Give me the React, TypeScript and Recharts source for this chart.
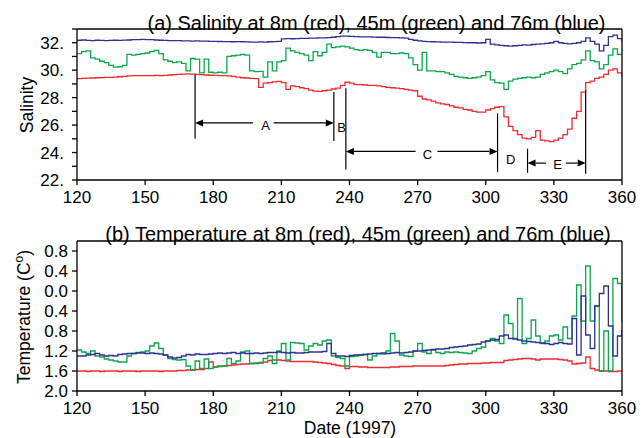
import { LineChart, Line, XAxis, YAxis, ReferenceLine, ReferenceDot } from 'recharts';

// sampling grid, every 2 days
const DAYS = Array.from({ length: 121 }, (_, i) => 120 + 2 * i);
const DATE_TICKS = [120, 150, 180, 210, 240, 270, 300, 330, 360];
const SALT_TICKS = [22, 23, 24, 25, 26, 27, 28, 29, 30, 31, 32, 33];
const TEMP_TICKS = [-2.0, -1.6, -1.2, -0.8, -0.4, 0, 0.4, 0.8];

// salinity
const salt8m = [
  29.38, 29.40, 29.42, 29.43, 29.45, 29.46, 29.47, 29.48, 29.50, 29.52,
  29.55, 29.58, 29.60, 29.60, 29.60, 29.60, 29.60, 29.62, 29.60, 29.62,
  29.65, 29.68, 29.70, 29.72, 29.73, 29.72, 29.70, 29.68, 29.65, 29.63,
  29.62, 29.60, 29.60, 29.58, 29.55, 29.50, 29.45, 29.43, 29.40, 29.38,
  28.75, 29.05, 29.10, 29.15, 29.19, 29.10, 28.60, 28.85, 28.80, 28.72,
  28.65, 28.55, 28.48, 28.46, 28.50, 28.55, 28.63, 28.70, 28.90, 29.12,
  29.05, 28.95, 28.95, 28.92, 28.90, 28.90, 28.85, 28.80, 28.75, 28.72,
  28.70, 28.65, 28.60, 28.55, 28.50, 28.10, 27.90, 27.84, 27.75, 27.62,
  27.55, 27.50, 27.40, 27.30, 27.25, 27.15, 27.10, 27.00, 26.95, 26.94,
  27.10, 27.20, 27.30, 27.35, 26.60, 25.90, 25.60, 25.30, 25.05, 24.99,
  25.10, 25.60, 24.90, 24.85, 24.80, 24.90, 25.05, 25.30, 25.70, 26.50,
  27.00, 28.40, 29.10, 29.20, 29.40, 29.50, 29.70, 30.00, 30.10, 29.80,
  29.50,
];
const salt45m = [
  31.20, 31.35, 31.40, 30.90, 30.80, 30.65, 30.55, 30.35, 30.22, 30.25,
  30.35, 31.15, 31.10, 31.15, 31.20, 31.25, 31.35, 31.45, 31.20, 30.75,
  30.65, 30.55, 30.60, 30.50, 29.95, 30.85, 30.80, 29.80, 30.80, 29.85,
  29.80, 29.85, 29.80, 31.00, 31.05, 31.10, 31.15, 31.10, 29.95, 29.90,
  29.92, 29.50, 30.60, 29.95, 30.60, 30.70, 31.60, 31.40, 31.30, 31.20,
  31.10, 30.70, 31.35, 31.05, 31.30, 31.90, 31.65, 31.70, 31.75, 31.70,
  31.60, 31.50, 31.45, 31.50, 31.45, 31.30, 30.95, 31.30, 31.30, 31.20,
  31.20, 31.25, 31.20, 30.90, 30.40, 30.00, 31.30, 29.95, 29.95, 29.90,
  29.90, 29.80, 29.70, 29.55, 29.50, 29.45, 29.40, 29.45, 29.50, 29.60,
  29.90, 29.30, 29.10, 29.05, 28.60, 29.20, 29.35, 29.40, 29.45, 29.50,
  29.45, 29.50, 29.70, 29.80, 29.90, 30.00, 29.90, 29.75, 30.10, 30.40,
  30.50, 30.75, 31.40, 30.70, 30.60, 30.10, 30.40, 31.10, 31.55, 31.15,
  31.10,
];
const salt76m = [
  32.18, 32.20, 32.17, 32.16, 32.18, 32.17, 32.15, 32.17, 32.18, 32.17,
  32.19, 32.20, 32.22, 32.23, 32.24, 32.23, 32.22, 32.20, 32.18, 32.17,
  32.15, 32.16, 32.15, 32.14, 32.13, 32.12, 32.13, 32.12, 32.11, 32.10,
  32.10, 32.09, 32.08, 32.08, 32.07, 32.08, 32.07, 32.06, 32.05, 32.05,
  32.06, 32.05, 32.07, 32.08, 32.10, 32.28, 32.30, 32.29, 32.30, 32.31,
  32.32, 32.33, 32.34, 32.35, 32.36, 32.37, 32.40, 32.45, 32.48, 32.48,
  32.46, 32.45, 32.43, 32.42, 32.42, 32.41, 32.40, 32.40, 32.38, 32.37,
  32.37, 32.35, 32.33, 32.25, 32.18, 32.13, 32.10, 32.08, 32.07, 32.06,
  32.05, 32.04, 32.04, 32.03, 32.02, 32.01, 32.00, 32.00, 31.98, 32.00,
  32.24, 31.90, 31.85, 31.80, 31.78, 31.75, 31.78, 31.80, 31.85, 31.82,
  31.87, 31.90, 31.92, 31.95, 32.00, 32.10, 32.00, 31.95, 31.92, 31.95,
  32.00, 32.10, 32.35, 32.10, 31.90, 31.40, 31.80, 32.45, 32.56, 32.30,
  32.05,
];

// temperature
const temp8m = [
  -1.60, -1.60, -1.61, -1.60, -1.60, -1.61, -1.60, -1.60, -1.60, -1.61,
  -1.60, -1.60, -1.60, -1.61, -1.60, -1.60, -1.60, -1.60, -1.61, -1.60,
  -1.60, -1.60, -1.59, -1.59, -1.58, -1.58, -1.57, -1.57, -1.55, -1.42,
  -1.52, -1.50, -1.50, -1.49, -1.48, -1.47, -1.46, -1.46, -1.45, -1.45,
  -1.44, -1.42, -1.39, -1.38, -1.38, -1.39, -1.40, -1.41, -1.41, -1.41,
  -1.41, -1.41, -1.42, -1.43, -1.44, -1.45, -1.47, -1.49, -1.50, -1.55,
  -1.51, -1.51, -1.52, -1.52, -1.53, -1.53, -1.53, -1.53, -1.53, -1.52,
  -1.52, -1.51, -1.51, -1.51, -1.50, -1.50, -1.50, -1.50, -1.50, -1.50,
  -1.50, -1.49, -1.48, -1.47, -1.46, -1.46, -1.45, -1.45, -1.45, -1.44,
  -1.44, -1.43, -1.43, -1.43, -1.39, -1.38, -1.37, -1.36, -1.35, -1.35,
  -1.36, -1.38, -1.36, -1.36, -1.36, -1.36, -1.37, -1.38, -1.40, -1.46,
  -1.45, -1.44, -1.32, -1.55, -1.58, -1.60, -1.60, -1.61, -1.61, -1.60,
  -1.61,
];
const temp45m = [
  -1.18, -1.22, -1.25, -1.20, -1.30, -1.32, -1.36, -1.38, -1.40, -1.42,
  -1.42, -1.30, -1.25, -1.23, -1.22, -1.20, -1.10, -1.04, -1.15, -1.28,
  -1.35, -1.37, -1.38, -1.37, -1.50, -1.58, -1.40, -1.55, -1.36, -1.55,
  -1.52, -1.51, -1.50, -1.35, -1.45, -1.40, -1.22, -1.20, -1.45, -1.44,
  -1.43, -1.35, -1.30, -1.45, -1.20, -1.05, -1.38, -1.03, -1.04, -1.05,
  -1.18, -1.10, -1.05, -1.08, -1.00, -0.98, -1.30, -1.33, -1.35, -1.50,
  -1.31, -1.30, -1.28, -1.27, -1.38, -1.30, -1.25, -1.26, -1.20, -0.85,
  -1.00, -1.28, -1.30, -1.31, -1.20, -1.05, -1.22, -1.25, -1.18, -1.23,
  -1.25, -1.22, -1.23, -1.22, -1.23, -1.24, -1.25, -1.20, -1.15, -1.12,
  -1.00, -0.95, -1.00, -1.05, -0.48, -0.65, -0.95, -0.15, -1.05, -0.95,
  -0.58, -0.90, -1.05, -1.00, -0.90, -0.88, -0.98, -0.72, -0.95, -0.50,
  0.12, -0.60, 0.50, -0.60, -0.30, -1.60, -0.80, -1.60, 0.25, 0.15,
  -0.62,
];
const temp76m = [
  -1.30, -1.30, -1.28, -1.27, -1.25, -1.28, -1.30, -1.29, -1.30, -1.27,
  -1.26, -1.25, -1.25, -1.24, -1.24, -1.25, -1.24, -1.25, -1.26, -1.28,
  -1.32, -1.34, -1.33, -1.30, -1.27, -1.28, -1.26, -1.27, -1.27, -1.26,
  -1.25, -1.24, -1.25, -1.24, -1.23, -1.25, -1.24, -1.25, -1.25, -1.24,
  -1.25, -1.24, -1.23, -1.23, -1.22, -1.23, -1.24, -1.23, -1.24, -1.24,
  -1.23, -1.22, -1.22, -1.22, -1.21, -1.05, -1.25, -1.30, -1.30, -1.31,
  -1.29, -1.28, -1.28, -1.27, -1.26, -1.25, -1.25, -1.24, -1.25, -1.24,
  -1.23, -1.24, -1.23, -1.22, -1.20, -1.20, -1.19, -1.18, -1.17, -1.16,
  -1.16, -1.15, -1.13, -1.12, -1.11, -1.10, -1.08, -1.07, -1.06, -1.02,
  -1.00, -0.98, -0.97, -0.90, -0.88, -0.95, -0.96, -0.98, -1.00, -1.01,
  -1.02, -1.03, -1.04, -1.05, -1.07, -1.05, -1.03, -1.05, -1.06, -0.55,
  -1.28, -0.10, -0.88, -1.15, -0.30, -0.05, 0.10, -0.70, -1.30, -0.90,
  -0.78,
];

// water-mass period markers in panel (a): vertical bars, arrows, letters
const markerBars = [
  { day: 172.0, top: 29.67, bottom: 25.01 },
  { day: 233.1, top: 28.41, bottom: 24.84 },
  { day: 238.4, top: 28.68, bottom: 22.77 },
  { day: 305.2, top: 26.85, bottom: 22.57 },
  { day: 318.4, top: 24.28, bottom: 22.52 },
  { day: 344.0, top: 28.55, bottom: 22.45 },
];
const markerArrows = [
  { from: 197.5, to: 172.0, level: 26.16 },
  { from: 206.6, to: 233.1, level: 26.16 },
  { from: 269.1, to: 238.4, level: 24.08 },
  { from: 278.7, to: 305.2, level: 24.08 },
  { from: 326.5, to: 318.4, level: 23.23 },
  { from: 335.3, to: 344.0, level: 23.23 },
];
const markerLetters = [
  { text: 'A', day: 203.0, level: 26.0 },
  { text: 'B', day: 236.5, level: 25.8 },
  { text: 'C', day: 274.3, level: 23.84 },
  { text: 'D', day: 311.0, level: 23.5 },
  { text: 'E', day: 331.6, level: 23.13 },
];

const saltRows = DAYS.map((day, i) => ({ day, s8: salt8m[i], s45: salt45m[i], s76: salt76m[i] }));
const tempRows = DAYS.map((day, i) => ({ day, t8: temp8m[i], t45: temp45m[i], t76: temp76m[i] }));

const RED = '#ee2b2e';
const GREEN = '#0ba64c';
const BLUE = '#2e3192';
const FONT = '"Liberation Sans", Arial, Helvetica, sans-serif';

const tickStyle = { fill: '#000', fontSize: 17, fontFamily: FONT };
const axisLine = { stroke: '#000', strokeWidth: 1.3 };

const ArrowShape = (p: any) => {
  const { x1, y1, x2, y2 } = p;
  const dir = x2 >= x1 ? 1 : -1;
  const len = 8;
  const half = 3.5;
  return (
    <g>
      <line x1={x1} y1={y1} x2={x2 - dir * len} y2={y2} stroke="#000" strokeWidth={1.2} />
      <polygon points={`${x2},${y2} ${x2 - dir * len},${y2 - half} ${x2 - dir * len},${y2 + half}`} fill="#000" />
    </g>
  );
};

const letterShape = (text: string) => (p: any) => (
  <text x={p.cx} y={p.cy} textAnchor="middle" dominantBaseline="central" fontSize={13} fontFamily={FONT} fill="#000">
    {text}
  </text>
);

const App = () => {
  return (
    <div style={{ position: 'absolute', left: 0, top: 0, width: 644, height: 438, background: '#fff', fontFamily: FONT }}>
      <div style={{ position: 'absolute', left: 0, top: 0 }}>
        <LineChart width={644} height={210} data={saltRows} margin={{ top: 29, right: 0, bottom: 0, left: 0 }}>
          <XAxis
            dataKey="day"
            type="number"
            domain={[120, 360]}
            ticks={DATE_TICKS}
            height={30}
            tickSize={5}
            tickMargin={6}
            tick={tickStyle}
            axisLine={axisLine}
            tickLine={axisLine}
            allowDataOverflow
          />
          <YAxis
            type="number"
            domain={[22, 33]}
            ticks={SALT_TICKS}
            width={77}
            tickSize={5}
            tickMargin={8}
            tick={tickStyle}
            tickFormatter={(v: number) => (v % 2 === 0 && v < 33 ? `${v}.` : '')}
            axisLine={axisLine}
            tickLine={axisLine}
            interval={0}
            allowDataOverflow
          />
          <YAxis
            yAxisId="right"
            orientation="right"
            type="number"
            domain={[22, 33]}
            ticks={SALT_TICKS}
            width={22}
            tickSize={5}
            tickFormatter={() => ''}
            axisLine={axisLine}
            tickLine={axisLine}
            interval={0}
          />
          <ReferenceLine y={33} stroke="#000" strokeWidth={1.3} />
          <Line dataKey="s76" type="stepAfter" stroke={BLUE} strokeWidth={1.3} dot={false} isAnimationActive={false} />
          <Line dataKey="s45" type="stepAfter" stroke={GREEN} strokeWidth={1.3} dot={false} isAnimationActive={false} />
          <Line dataKey="s8" type="stepAfter" stroke={RED} strokeWidth={1.3} dot={false} isAnimationActive={false} />
          {markerBars.map((b, i) => (
            <ReferenceLine
              key={`bar-${i}`}
              segment={[{ x: b.day, y: b.top }, { x: b.day, y: b.bottom }]}
              stroke="#000"
              strokeWidth={1.2}
            />
          ))}
          {markerArrows.map((a, i) => (
            <ReferenceLine
              key={`arr-${i}`}
              segment={[{ x: a.from, y: a.level }, { x: a.to, y: a.level }]}
              shape={ArrowShape}
            />
          ))}
          {markerLetters.map((l) => (
            <ReferenceDot key={l.text} x={l.day} y={l.level} r={0} shape={letterShape(l.text)} />
          ))}
        </LineChart>
      </div>

      <div style={{ position: 'absolute', left: 0, top: 210 }}>
        <LineChart width={644} height={228} data={tempRows} margin={{ top: 31, right: 0, bottom: 0, left: 0 }}>
          <XAxis
            dataKey="day"
            type="number"
            domain={[120, 360]}
            ticks={DATE_TICKS}
            height={47}
            tickSize={5}
            tickMargin={6}
            tick={tickStyle}
            axisLine={axisLine}
            tickLine={axisLine}
            allowDataOverflow
          />
          <YAxis
            type="number"
            domain={[-2, 1]}
            ticks={TEMP_TICKS}
            width={77}
            tickSize={5}
            tickMargin={4}
            tick={tickStyle}
            tickFormatter={(v: number) => Math.abs(v).toFixed(1)}
            axisLine={axisLine}
            tickLine={axisLine}
            interval={0}
            allowDataOverflow
          />
          <YAxis
            yAxisId="right"
            orientation="right"
            type="number"
            domain={[-2, 1]}
            ticks={TEMP_TICKS}
            width={22}
            tickSize={5}
            tickFormatter={() => ''}
            axisLine={axisLine}
            tickLine={axisLine}
            interval={0}
          />
          <ReferenceLine y={1} stroke="#000" strokeWidth={1.3} />
          <Line dataKey="t8" type="stepAfter" stroke={RED} strokeWidth={1.3} dot={false} isAnimationActive={false} />
          <Line dataKey="t45" type="stepAfter" stroke={GREEN} strokeWidth={1.3} dot={false} isAnimationActive={false} />
          <Line dataKey="t76" type="stepAfter" stroke={BLUE} strokeWidth={1.3} dot={false} isAnimationActive={false} />
        </LineChart>
      </div>

      <svg width={644} height={438} style={{ position: 'absolute', left: 0, top: 0, pointerEvents: 'none' }}>
        <g fontFamily={FONT} fill="#000">
          <text x={376.5} y={30} textAnchor="middle" fontSize={20}>
            (a) Salinity at 8m (red), 45m (green) and 76m (blue)
          </text>
          <text x={358} y={241} textAnchor="middle" fontSize={20}>
            (b) Temperature at 8m (red), 45m (green) and 76m (blue)
          </text>
          <text transform="translate(33,105) rotate(-90)" textAnchor="middle" fontSize={17.5}>
            Salinity
          </text>
          <text transform="translate(30,317) rotate(-90)" textAnchor="middle" fontSize={17.5}>
            Temperature (C<tspan dy={-7} fontSize={12}>o</tspan>
            <tspan dy={7}>)</tspan>
          </text>
          <text x={350} y={434} textAnchor="middle" fontSize={17.5}>
            Date (1997)
          </text>
        </g>
      </svg>
    </div>
  );
};

export default App;
